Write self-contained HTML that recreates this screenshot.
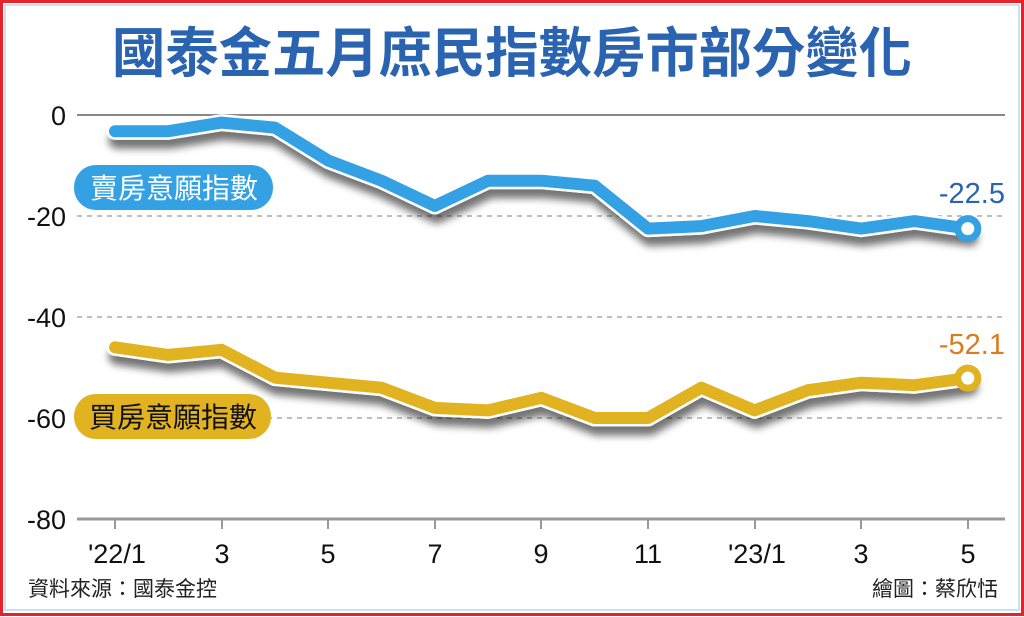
<!DOCTYPE html>
<html><head><meta charset="utf-8"><style>
body{margin:0;background:#fff}
svg{display:block}
text{font-family:"Liberation Sans","Noto Sans CJK TC",sans-serif}
</style></head><body>
<svg width="1024" height="617" viewBox="0 0 1024 617" xmlns="http://www.w3.org/2000/svg">
<defs>
<filter id="sh" x="-10%" y="-50%" width="120%" height="200%"><feGaussianBlur in="SourceAlpha" stdDeviation="4"/><feOffset dx="2" dy="9"/><feComponentTransfer><feFuncA type="linear" slope="0.55"/></feComponentTransfer><feMerge><feMergeNode/><feMergeNode in="SourceGraphic"/></feMerge></filter>
</defs>
<rect width="1024" height="617" fill="#fff"/>
<rect x="1.5" y="1.5" width="1021" height="613" fill="none" stroke="#e8212a" stroke-width="3"/>
<rect x="5" y="5" width="1014" height="605" fill="none" stroke="#bcd6ee" stroke-width="1.5"/>
<text x="512" y="72" text-anchor="middle" font-size="54" font-weight="bold" fill="#2a63b0" textLength="800" lengthAdjust="spacingAndGlyphs" style="font-family:'Noto Sans CJK TC',sans-serif">國泰金五月庶民指數房市部分變化</text>
<g stroke="#999" stroke-width="1.2" stroke-dasharray="5,5">
<line x1="77" y1="216" x2="1005" y2="216"/><line x1="77" y1="317" x2="1005" y2="317"/><line x1="77" y1="418" x2="1005" y2="418"/>
</g>
<line x1="77" y1="115" x2="1005" y2="115" stroke="#888" stroke-width="2"/>
<line x1="77" y1="519" x2="1005" y2="519" stroke="#999" stroke-width="3"/>
<g stroke="#999" stroke-width="2">
<line x1="115" y1="519" x2="115" y2="529"/><line x1="222" y1="519" x2="222" y2="529"/><line x1="328" y1="519" x2="328" y2="529"/><line x1="435" y1="519" x2="435" y2="529"/><line x1="541" y1="519" x2="541" y2="529"/><line x1="648" y1="519" x2="648" y2="529"/><line x1="755" y1="519" x2="755" y2="529"/><line x1="861" y1="519" x2="861" y2="529"/><line x1="968" y1="519" x2="968" y2="529"/>
</g>
<g font-size="27" fill="#111" text-anchor="end">
<text x="66" y="125">0</text><text x="66" y="226">-20</text><text x="66" y="327">-40</text><text x="66" y="428">-60</text><text x="66" y="529">-80</text>
</g>
<g font-size="27" fill="#111" text-anchor="middle">
<text x="117" y="563">'22/1</text><text x="222" y="563">3</text><text x="328" y="563">5</text><text x="435" y="563">7</text><text x="541" y="563">9</text><text x="648" y="563">11</text><text x="757" y="563">'23/1</text><text x="861" y="563">3</text><text x="968" y="563">5</text>
</g>
<g fill="none" stroke-linejoin="round" stroke-linecap="round">
<g filter="url(#sh)">
<polyline stroke="#fff" stroke-width="17" points="115,131.2 168.3,131.2 221.6,122.6 274.9,127.6 328.2,160.5 381.5,180.7 434.8,205.9 488.1,180.7 541.4,180.7 594.7,185.7 648,228.6 701.3,226.1 754.6,216 807.9,221.1 861.2,228.6 914.5,221.1 967.8,228.6"/>
</g>
<polyline stroke="#34a1e4" stroke-width="12" points="115,131.2 168.3,131.2 221.6,122.6 274.9,127.6 328.2,160.5 381.5,180.7 434.8,205.9 488.1,180.7 541.4,180.7 594.7,185.7 648,228.6 701.3,226.1 754.6,216 807.9,221.1 861.2,228.6 914.5,221.1 967.8,228.6"/>
<g filter="url(#sh)">
<polyline stroke="#fff" stroke-width="17" points="115,347.3 168.3,354.9 221.6,349.8 274.9,377.6 328.2,382.7 381.5,387.7 434.8,407.9 488.1,410.4 541.4,397.8 594.7,418 648,418 701.3,387.7 754.6,410.4 807.9,390.2 861.2,382.7 914.5,385.2 967.8,378.1"/>
</g>
<polyline stroke="#e2b321" stroke-width="12" points="115,347.3 168.3,354.9 221.6,349.8 274.9,377.6 328.2,382.7 381.5,387.7 434.8,407.9 488.1,410.4 541.4,397.8 594.7,418 648,418 701.3,387.7 754.6,410.4 807.9,390.2 861.2,382.7 914.5,385.2 967.8,378.1"/>
</g>
<circle cx="967.8" cy="228.6" r="10" fill="#fff" stroke="#34a1e4" stroke-width="7"/>
<circle cx="967.8" cy="378.1" r="10" fill="#fff" stroke="#e2b321" stroke-width="7"/>
<text x="1005" y="203" text-anchor="end" font-size="29" fill="#2a63b0">-22.5</text>
<text x="1005" y="354" text-anchor="end" font-size="29" fill="#dc7a1c">-52.1</text>
<rect x="74" y="165" width="199" height="45" rx="22" fill="#34a1e4"/>
<text x="174" y="198" text-anchor="middle" font-size="28" fill="#fff" style="font-family:'Noto Sans CJK TC',sans-serif">賣房意願指數</text>
<rect x="74" y="394" width="197" height="45" rx="22" fill="#e2b321"/>
<text x="173" y="427" text-anchor="middle" font-size="28" fill="#111" style="font-family:'Noto Sans CJK TC',sans-serif">買房意願指數</text>
<text x="28" y="596" font-size="21" fill="#222" style="font-family:'Noto Sans CJK TC',sans-serif">資料來源：國泰金控</text>
<text x="998" y="596" text-anchor="end" font-size="21" fill="#222" style="font-family:'Noto Sans CJK TC',sans-serif">繪圖：蔡欣恬</text>
</svg>
</body></html>
